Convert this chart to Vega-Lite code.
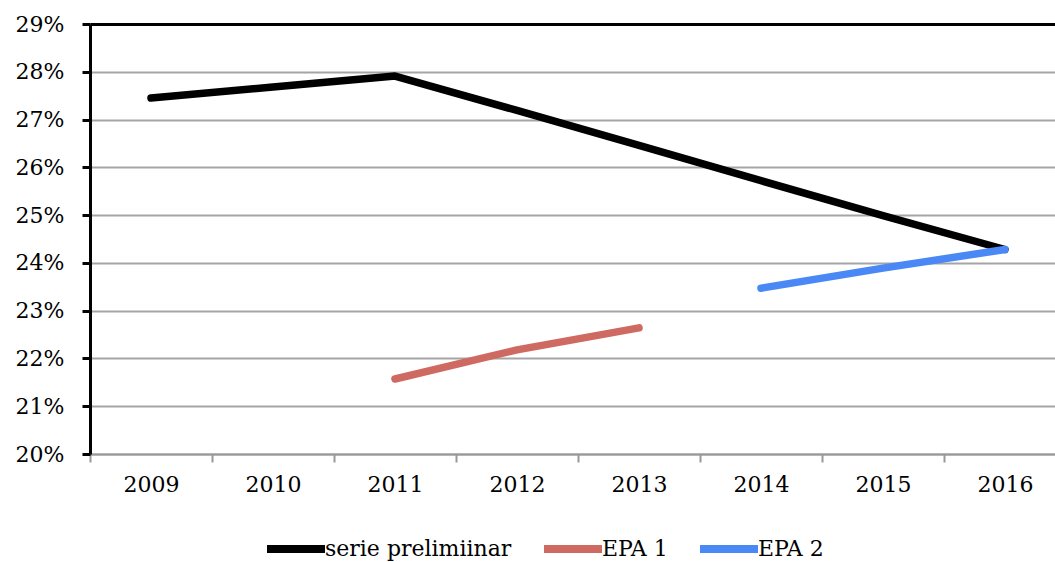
{
  "$schema": "https://vega.github.io/schema/vega-lite/v6.json",
  "autosize": {"type": "none"},
  "padding": {"left": 90, "top": 24, "right": 0, "bottom": 108},
  "width": 965,
  "height": 430,
  "background": "white",
  "config": {
    "view": {"stroke": null},
    "font": "DejaVu Serif"
  },
  "data": {
    "values": [
      {"year": "2009", "series": "serie prelimiinar", "value": 0.2745},
      {"year": "2010", "series": "serie prelimiinar", "value": 0.2768},
      {"year": "2011", "series": "serie prelimiinar", "value": 0.2791},
      {"year": "2012", "series": "serie prelimiinar", "value": 0.2719},
      {"year": "2013", "series": "serie prelimiinar", "value": 0.2646},
      {"year": "2014", "series": "serie prelimiinar", "value": 0.2572},
      {"year": "2015", "series": "serie prelimiinar", "value": 0.2499},
      {"year": "2016", "series": "serie prelimiinar", "value": 0.2428},
      {"year": "2011", "series": "EPA 1", "value": 0.2157},
      {"year": "2012", "series": "EPA 1", "value": 0.2218},
      {"year": "2013", "series": "EPA 1", "value": 0.2264},
      {"year": "2014", "series": "EPA 2", "value": 0.2347},
      {"year": "2015", "series": "EPA 2", "value": 0.2389},
      {"year": "2016", "series": "EPA 2", "value": 0.2428}
    ]
  },
  "mark": {"type": "line", "strokeWidth": 7.5, "strokeCap": "round", "strokeJoin": "round"},
  "encoding": {
    "x": {
      "field": "year",
      "type": "ordinal",
      "bandPosition": 0.5,
      "scale": {"type": "band", "paddingInner": 0, "paddingOuter": 0, "range": [0, 976]},
      "axis": {
        "title": null,
        "labelAngle": 0,
        "labelFont": "DejaVu Serif",
        "labelFontSize": 22,
        "labelColor": "black",
        "labelPadding": 12,
        "tickBand": "extent",
        "domainColor": "#999999",
        "domainWidth": 2,
        "tickColor": "#999999",
        "tickWidth": 2,
        "tickSize": 8,
        "grid": false
      }
    },
    "y": {
      "field": "value",
      "type": "quantitative",
      "scale": {"domain": [0.2, 0.29], "nice": false, "zero": false},
      "axis": {
        "title": null,
        "values": [0.2, 0.21, 0.22, 0.23, 0.24, 0.25, 0.26, 0.27, 0.28, 0.29],
        "format": ".0%",
        "labelFont": "DejaVu Serif",
        "labelFontSize": 22,
        "labelColor": "black",
        "labelPadding": 18,
        "domainColor": "black",
        "domainWidth": 3,
        "tickColor": "black",
        "tickWidth": 3,
        "tickSize": 8,
        "grid": true,
        "gridColor": {"condition": {"test": "datum.value >= 0.289", "value": "black"}, "value": "#a5a5a5"},
        "gridWidth": {"condition": {"test": "datum.value >= 0.289", "value": 3}, "value": 2}
      }
    },
    "color": {
      "field": "series",
      "type": "nominal",
      "scale": {"domain": ["serie prelimiinar", "EPA 1", "EPA 2"], "range": ["#000000", "#cf6a62", "#4a88f5"]},
      "legend": {
        "title": null,
        "orient": "none",
        "direction": "horizontal",
        "legendX": 173,
        "legendY": 492,
        "symbolType": "stroke",
        "symbolSize": 3364,
        "symbolStrokeWidth": 8,
        "labelFont": "DejaVu Serif",
        "labelFontSize": 22,
        "labelColor": "black",
        "labelOffset": -4,
        "columnPadding": 16,
        "labelLimit": 400
      }
    }
  }
}
